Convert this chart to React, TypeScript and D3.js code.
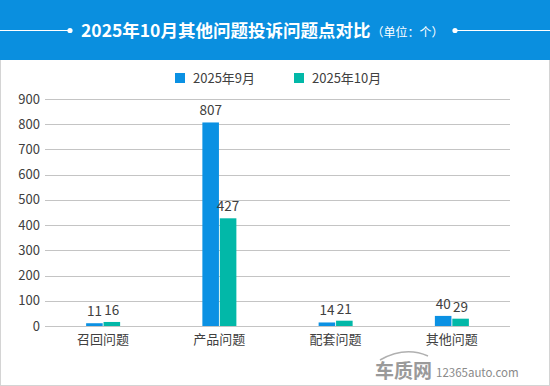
import React, { useEffect, useRef } from 'react';
import * as d3 from 'd3';

const categories = ['召回问题', '产品问题', '配套问题', '其他问题'];
const sep = [11, 807, 14, 40];
const oct = [16, 427, 21, 29];
const seriesNames = ['2025年9月', '2025年10月'];
const yTicks = [0, 100, 200, 300, 400, 500, 600, 700, 800, 900];

const W = 550, H = 386;
const colors = ['#0b91e3', '#02b8a8'];
const font = '"Noto Sans CJK SC", "Microsoft YaHei", sans-serif';

export default function App() {
  const ref = useRef<SVGSVGElement>(null);

  useEffect(() => {
    const svg = d3.select(ref.current);
    svg.selectAll('*').remove();

    // frame + header
    svg.append('rect').attr('x', 0.5).attr('y', 0.5).attr('width', W - 1).attr('height', H - 1)
      .attr('fill', '#fff').attr('stroke', '#d4d4d4');
    svg.append('rect').attr('x', 0).attr('y', 0).attr('width', W).attr('height', 60).attr('fill', '#0a8fdf');

    const header = svg.append('g');
    header.append('line').attr('x1', 0).attr('x2', 70).attr('y1', 30.5).attr('y2', 30.5).attr('stroke', '#fff').attr('stroke-width', 1.2);
    header.append('circle').attr('cx', 70).attr('cy', 30.5).attr('r', 2.6).attr('fill', '#fff');
    header.append('line').attr('x1', 455).attr('x2', W).attr('y1', 30.5).attr('y2', 30.5).attr('stroke', '#fff').attr('stroke-width', 1.2);
    header.append('circle').attr('cx', 455).attr('cy', 30.5).attr('r', 2.6).attr('fill', '#fff');
    const title = header.append('text').attr('x', 81).attr('y', 37).attr('fill', '#fff').style('font-family', font);
    title.append('tspan').text('2025年10月其他问题投诉问题点对比').attr('font-size', 17.5).attr('font-weight', 'bold');
    title.append('tspan').text('（单位：个）').attr('font-size', 12).attr('dx', 1);

    const margin = { left: 45, right: 40 };
    const x0 = d3.scaleBand().domain(categories).range([margin.left, W - margin.right]);
    const y = d3.scaleLinear().domain([0, 900]).range([326, 99]);
    const x1 = d3.scaleBand().domain(seriesNames).range([-17, 17]).paddingInner(0.05);

    // grid
    svg.append('g').selectAll('line').data(yTicks).join('line')
      .attr('x1', margin.left).attr('x2', W - margin.right)
      .attr('y1', d => Math.round(y(d)) + 0.5).attr('y2', d => Math.round(y(d)) + 0.5)
      .attr('stroke', '#c4c4c4');

    svg.append('g').selectAll('text').data(yTicks).join('text')
      .attr('x', 40).attr('y', d => y(d) + 4.5).attr('text-anchor', 'end')
      .attr('fill', '#404040').attr('font-size', 13).style('font-family', font)
      .text(d => d);

    const rows = categories.map((c, i) => [
      { c, s: seriesNames[0], v: sep[i], k: 0 },
      { c, s: seriesNames[1], v: oct[i], k: 1 },
    ]).flat();

    const cx = (c: string) => (x0(c) as number) + x0.bandwidth() / 2;

    svg.append('g').selectAll('rect').data(rows).join('rect')
      .attr('x', d => cx(d.c) + (x1(d.s) as number))
      .attr('width', x1.bandwidth())
      .attr('y', d => y(d.v))
      .attr('height', d => y(0) - y(d.v))
      .attr('fill', d => colors[d.k]);

    svg.append('g').selectAll('text').data(rows).join('text')
      .attr('x', d => cx(d.c) + (x1(d.s) as number) + x1.bandwidth() / 2)
      .attr('y', d => y(d.v) - 7)
      .attr('text-anchor', 'middle').attr('fill', '#404040').attr('font-size', 13.5)
      .style('font-family', font)
      .text(d => d.v);

    svg.append('g').selectAll('text').data(categories).join('text')
      .attr('x', d => cx(d)).attr('y', 344)
      .attr('text-anchor', 'middle').attr('fill', '#404040').attr('font-size', 13)
      .style('font-family', font)
      .text(d => d);

    // legend
    const lg = svg.append('g');
    const lx = [175, 294];
    seriesNames.forEach((s, i) => {
      lg.append('rect').attr('x', lx[i]).attr('y', 73).attr('width', 10).attr('height', 10).attr('fill', colors[i]);
      lg.append('text').attr('x', lx[i] + 18).attr('y', 83).attr('fill', '#404040').attr('font-size', 13)
        .style('font-family', font).text(s);
    });

    // watermark
    const wm = svg.append('g');
    wm.append('text').attr('x', 375).attr('y', 378).attr('fill', '#9a9a9a').attr('font-size', 19)
      .attr('font-weight', 'bold').style('font-family', font).text('车质网');
    wm.append('text').attr('x', 436).attr('y', 377).attr('fill', '#8a8a8a').attr('font-size', 11.5)
      .style('font-family', font).text('12365auto.com');
    wm.append('path').attr('d', 'M380,360 Q405,346 428,356').attr('fill', 'none').attr('stroke', '#b0b0b0').attr('stroke-width', 1.5);
  }, []);

  return (
    <svg ref={ref} width={W} height={H} style={{ position: 'absolute', left: 0, top: 0 }} />
  );
}
